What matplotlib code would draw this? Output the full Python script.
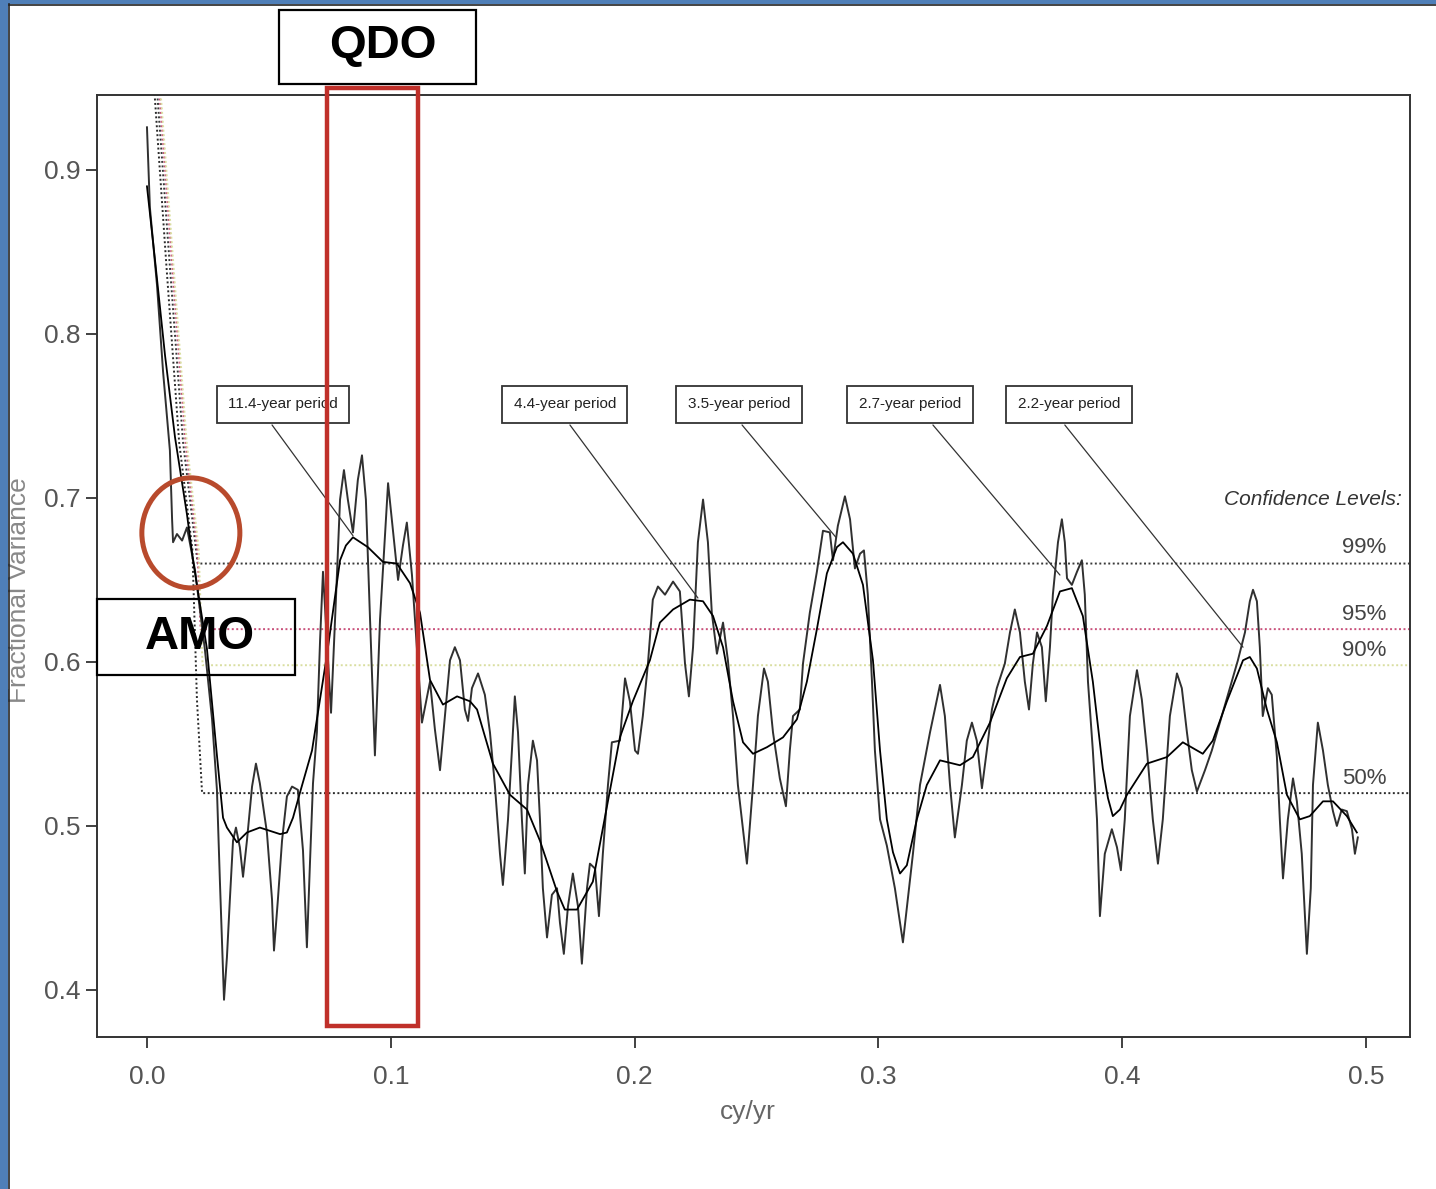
import matplotlib
matplotlib.use("Agg")
import matplotlib.pyplot as plt
from matplotlib.patches import Rectangle, Ellipse
import numpy as np

plt.rcParams['font.family'] = ['Liberation Sans', 'DejaVu Sans']

# raw periodogram (frequency in cy/yr, fractional variance)
noisy_pts = [
    (0.0000, 0.926), (0.0012, 0.877), (0.0041, 0.830), (0.0066, 0.777), (0.0094, 0.729),
    (0.0103, 0.687), (0.0107, 0.673), (0.0123, 0.678), (0.0144, 0.674), (0.0164, 0.682),
    (0.0197, 0.656), (0.0238, 0.607), (0.0267, 0.565), (0.0287, 0.522), (0.0299, 0.467),
    (0.0316, 0.394), (0.0328, 0.420), (0.0340, 0.455), (0.0353, 0.491), (0.0365, 0.499),
    (0.0381, 0.487), (0.0394, 0.469), (0.0410, 0.491), (0.0431, 0.524), (0.0447, 0.538),
    (0.0463, 0.526), (0.0492, 0.496), (0.0513, 0.455), (0.0521, 0.424), (0.0537, 0.455),
    (0.0554, 0.491), (0.0574, 0.518), (0.0595, 0.524), (0.0619, 0.522), (0.0640, 0.485),
    (0.0656, 0.426), (0.0669, 0.479), (0.0681, 0.526), (0.0697, 0.557), (0.0710, 0.613),
    (0.0722, 0.655), (0.0738, 0.613), (0.0755, 0.569), (0.0775, 0.638), (0.0792, 0.699),
    (0.0808, 0.717), (0.0824, 0.699), (0.0845, 0.679), (0.0865, 0.711), (0.0882, 0.726),
    (0.0898, 0.699), (0.0915, 0.626), (0.0935, 0.543), (0.0956, 0.626), (0.0989, 0.709),
    (0.1009, 0.680), (0.1030, 0.650), (0.1050, 0.671), (0.1066, 0.685), (0.1087, 0.653),
    (0.1107, 0.609), (0.1128, 0.563), (0.1161, 0.588), (0.1181, 0.559), (0.1202, 0.534),
    (0.1222, 0.567), (0.1243, 0.601), (0.1263, 0.609), (0.1284, 0.601), (0.1304, 0.571),
    (0.1317, 0.564), (0.1333, 0.584), (0.1358, 0.593), (0.1386, 0.580), (0.1407, 0.557),
    (0.1427, 0.525), (0.1448, 0.483), (0.1460, 0.464), (0.1481, 0.504), (0.1497, 0.546),
    (0.1509, 0.579), (0.1522, 0.557), (0.1538, 0.504), (0.1550, 0.471), (0.1563, 0.525),
    (0.1583, 0.552), (0.1600, 0.540), (0.1612, 0.504), (0.1624, 0.462), (0.1641, 0.432),
    (0.1661, 0.458), (0.1682, 0.462), (0.1694, 0.441), (0.1710, 0.422), (0.1727, 0.451),
    (0.1747, 0.471), (0.1768, 0.451), (0.1784, 0.416), (0.1805, 0.462), (0.1817, 0.477),
    (0.1838, 0.474), (0.1854, 0.445), (0.1870, 0.483), (0.1891, 0.525), (0.1907, 0.551),
    (0.1940, 0.552), (0.1961, 0.590), (0.1981, 0.576), (0.2002, 0.546), (0.2014, 0.544),
    (0.2034, 0.567), (0.2055, 0.599), (0.2075, 0.638), (0.2096, 0.646), (0.2125, 0.641),
    (0.2158, 0.649), (0.2186, 0.643), (0.2207, 0.599), (0.2223, 0.579), (0.2240, 0.609),
    (0.2260, 0.673), (0.2281, 0.699), (0.2301, 0.673), (0.2317, 0.630), (0.2338, 0.605),
    (0.2363, 0.624), (0.2383, 0.601), (0.2404, 0.567), (0.2424, 0.525), (0.2461, 0.477),
    (0.2486, 0.525), (0.2506, 0.567), (0.2531, 0.596), (0.2547, 0.588), (0.2568, 0.557),
    (0.2596, 0.529), (0.2621, 0.512), (0.2637, 0.546), (0.2650, 0.567), (0.2678, 0.571),
    (0.2691, 0.599), (0.2719, 0.630), (0.2748, 0.655), (0.2773, 0.680), (0.2801, 0.679),
    (0.2814, 0.662), (0.2834, 0.683), (0.2863, 0.701), (0.2884, 0.687), (0.2904, 0.657),
    (0.2925, 0.666), (0.2941, 0.668), (0.2957, 0.641), (0.2974, 0.588), (0.2986, 0.546),
    (0.3007, 0.504), (0.3035, 0.488), (0.3068, 0.462), (0.3101, 0.429), (0.3142, 0.483),
    (0.3171, 0.525), (0.3212, 0.557), (0.3253, 0.586), (0.3273, 0.567), (0.3294, 0.525),
    (0.3314, 0.493), (0.3343, 0.525), (0.3363, 0.552), (0.3384, 0.563), (0.3404, 0.552),
    (0.3425, 0.523), (0.3445, 0.546), (0.3466, 0.571), (0.3486, 0.584), (0.3519, 0.599),
    (0.3540, 0.618), (0.3560, 0.632), (0.3581, 0.618), (0.3601, 0.588), (0.3618, 0.571),
    (0.3634, 0.599), (0.3651, 0.618), (0.3671, 0.609), (0.3687, 0.576), (0.3704, 0.609),
    (0.3716, 0.641), (0.3737, 0.673), (0.3753, 0.687), (0.3765, 0.673), (0.3774, 0.651),
    (0.3794, 0.647), (0.3815, 0.655), (0.3835, 0.662), (0.3847, 0.641), (0.3860, 0.588),
    (0.3880, 0.546), (0.3897, 0.504), (0.3909, 0.445), (0.3929, 0.483), (0.3958, 0.498),
    (0.3979, 0.487), (0.3995, 0.473), (0.4011, 0.504), (0.4032, 0.567), (0.4061, 0.595),
    (0.4081, 0.577), (0.4102, 0.546), (0.4126, 0.504), (0.4147, 0.477), (0.4167, 0.504),
    (0.4196, 0.567), (0.4225, 0.593), (0.4245, 0.584), (0.4266, 0.557), (0.4286, 0.534),
    (0.4307, 0.521), (0.4340, 0.534), (0.4368, 0.546), (0.4401, 0.563), (0.4442, 0.584),
    (0.4475, 0.601), (0.4504, 0.618), (0.4524, 0.637), (0.4537, 0.644), (0.4553, 0.637),
    (0.4565, 0.609), (0.4577, 0.567), (0.4598, 0.584), (0.4614, 0.580), (0.4635, 0.542),
    (0.4647, 0.504), (0.4660, 0.468), (0.4680, 0.504), (0.4701, 0.529), (0.4717, 0.515),
    (0.4737, 0.483), (0.4750, 0.445), (0.4758, 0.422), (0.4774, 0.462), (0.4783, 0.525),
    (0.4803, 0.563), (0.4824, 0.546), (0.4844, 0.525), (0.4865, 0.509), (0.4881, 0.500),
    (0.4901, 0.510), (0.4922, 0.509), (0.4943, 0.498), (0.4955, 0.483), (0.4967, 0.493),
]

# smoothed spectrum
smooth_pts = [
    (0.0000, 0.890), (0.0033, 0.845), (0.0074, 0.787), (0.0115, 0.737), (0.0164, 0.690),
    (0.0189, 0.662), (0.0246, 0.608), (0.0287, 0.543), (0.0312, 0.505), (0.0328, 0.499),
    (0.0369, 0.490), (0.0410, 0.496), (0.0463, 0.499), (0.0546, 0.495), (0.0574, 0.496),
    (0.0599, 0.505), (0.0627, 0.520), (0.0677, 0.546), (0.0697, 0.565), (0.0738, 0.604),
    (0.0792, 0.662), (0.0816, 0.671), (0.0845, 0.676), (0.0906, 0.670), (0.0968, 0.661),
    (0.1025, 0.660), (0.1079, 0.648), (0.1120, 0.630), (0.1161, 0.589), (0.1214, 0.574),
    (0.1272, 0.579), (0.1325, 0.576), (0.1354, 0.571), (0.1419, 0.538), (0.1489, 0.519),
    (0.1559, 0.510), (0.1612, 0.491), (0.1682, 0.460), (0.1714, 0.449), (0.1764, 0.449),
    (0.1829, 0.466), (0.1887, 0.512), (0.1940, 0.554), (0.1993, 0.576), (0.2063, 0.601),
    (0.2104, 0.624), (0.2158, 0.632), (0.2227, 0.638), (0.2281, 0.637), (0.2322, 0.628),
    (0.2363, 0.609), (0.2404, 0.576), (0.2445, 0.551), (0.2486, 0.544), (0.2543, 0.548),
    (0.2609, 0.554), (0.2666, 0.565), (0.2707, 0.588), (0.2748, 0.620), (0.2789, 0.654),
    (0.2830, 0.670), (0.2855, 0.673), (0.2896, 0.666), (0.2937, 0.647), (0.2978, 0.601),
    (0.3007, 0.546), (0.3035, 0.504), (0.3060, 0.484), (0.3089, 0.471), (0.3117, 0.476),
    (0.3158, 0.504), (0.3199, 0.525), (0.3253, 0.540), (0.3335, 0.537), (0.3388, 0.542),
    (0.3458, 0.563), (0.3527, 0.590), (0.3581, 0.603), (0.3634, 0.605), (0.3692, 0.622),
    (0.3745, 0.643), (0.3794, 0.645), (0.3839, 0.628), (0.3880, 0.588), (0.3921, 0.535),
    (0.3942, 0.517), (0.3962, 0.506), (0.3991, 0.510), (0.4020, 0.519), (0.4102, 0.538),
    (0.4184, 0.542), (0.4249, 0.551), (0.4331, 0.544), (0.4372, 0.552), (0.4430, 0.576),
    (0.4496, 0.601), (0.4524, 0.603), (0.4553, 0.596), (0.4594, 0.571), (0.4635, 0.551),
    (0.4676, 0.519), (0.4729, 0.504), (0.4770, 0.506), (0.4824, 0.515), (0.4865, 0.515),
    (0.4922, 0.506), (0.4963, 0.496),
]

# confidence levels (raised at the lowest frequencies)
conf99 = [(0.0041, 0.949), (0.0094, 0.841), (0.0148, 0.734), (0.0208, 0.660), (0.518, 0.660)]
conf95 = [(0.0050, 0.949), (0.0104, 0.841), (0.0158, 0.734), (0.0207, 0.669), (0.0220, 0.620), (0.518, 0.620)]
conf90 = [(0.0055, 0.949), (0.0109, 0.841), (0.0163, 0.734), (0.0212, 0.669), (0.0228, 0.598), (0.518, 0.598)]
conf50 = [(0.0030, 0.949), (0.0080, 0.841), (0.0132, 0.734), (0.0186, 0.669), (0.0205, 0.577),
          (0.0226, 0.520), (0.518, 0.520)]
conf_labels = ['99%', '95%', '90%', '50%']
conf_label_y = [0.6695, 0.629, 0.6067, 0.5287]

# period annotations: label, peak (freq, var) the pointer goes to
period_labels = ['11.4-year period', '4.4-year period', '3.5-year period', '2.7-year period', '2.2-year period']
period_peaks = [(0.0845, 0.677), (0.2260, 0.639), (0.2826, 0.676), (0.3745, 0.653), (0.4496, 0.609)]
label_x = [0.0558, 0.1714, 0.2428, 0.3130, 0.3782]
pointer_start_x = [0.0513, 0.1735, 0.2441, 0.3224, 0.3765]

qdo_band = (0.0738, 0.1112)

W, H = 1436, 1189
fig = plt.figure(figsize=(W / 100, H / 100), dpi=100)
fig.patch.set_facecolor('white')
ax = fig.add_axes([97 / W, 1 - 1037 / H, (1410 - 97) / W, (1037 - 95) / H])

nf, nv = np.array(noisy_pts).T
sf, sv = np.array(smooth_pts).T

conf_colors = ['#3a3a3a', '#c8507a', '#d9dea0', '#2a2a2a']
for pts, col in zip([conf99, conf95, conf90, conf50], conf_colors):
    cf, cv = np.array(pts).T
    ax.plot(cf, cv, color=col, lw=1.4, ls=(0, (1, 1.3)), zorder=2)

ax.plot(nf, nv, color='#303030', lw=1.4, zorder=3)
ax.plot(sf, sv, color='black', lw=1.3, zorder=4)

ax.set_xlim(-0.0205, 0.5181)
ax.set_ylim(0.3713, 0.9457)
ax.set_xticks([0.0, 0.1, 0.2, 0.3, 0.4, 0.5])
ax.set_yticks([0.4, 0.5, 0.6, 0.7, 0.8, 0.9])
ax.tick_params(direction='out', length=8, width=1.3, color='#333333',
               labelcolor='#555555', labelsize=19)
ax.tick_params(axis='y', pad=4)
ax.tick_params(axis='x', pad=12)
for s in ax.spines.values():
    s.set_color('#333333')
    s.set_linewidth(1.4)

ax.set_xlabel('cy/yr', fontsize=19, color='#666666')
ax.xaxis.set_label_coords(0.4958, -0.067)
ax.set_ylabel('Fractional Variance', fontsize=19, color='#888888')
ax.yaxis.set_label_coords(-0.05, 0.4745)

# confidence level labels
ax.text(0.5148, 0.699, 'Confidence Levels:', ha='right', va='center', fontsize=15,
        style='italic', color='#333333')
for lab, y in zip(conf_labels, conf_label_y):
    ax.text(0.5085, y, lab, ha='right', va='center', fontsize=16, color='#444444')

# period labels with pointers
for lab, (px, py), lx, sx in zip(period_labels, period_peaks, label_x, pointer_start_x):
    ax.annotate('', xy=(px, py), xytext=(sx, 0.7445),
                arrowprops=dict(arrowstyle='-', color='#333333', lw=0.9, shrinkA=0, shrinkB=0),
                zorder=3)
    ax.text(lx, 0.757, lab, ha='center', va='center', fontsize=11, color='#222222', zorder=5,
            bbox=dict(boxstyle='square,pad=0.75', fc='white', ec='#333333', lw=1.3))

# QDO band
ax.add_patch(Rectangle((qdo_band[0], 0.378), qdo_band[1] - qdo_band[0], 0.95 - 0.378,
                       fill=False, ec='#c0302a', lw=3.2, zorder=6, clip_on=False))

# AMO circle
ax.add_patch(Ellipse((0.0180, 0.6787), 0.0402, 0.0671, fill=False, ec='#b84a2c',
                     lw=3.6, zorder=6))

# QDO / AMO boxes
fig.patches.append(Rectangle((279 / W, 1 - 84 / H), 197 / W, 74 / H, transform=fig.transFigure,
                             fill=False, ec='black', lw=1.6, figure=fig))
fig.text(383 / W, 1 - 46 / H, 'QDO', ha='center', va='center', fontsize=34, fontweight='bold')
fig.patches.append(Rectangle((97 / W, 1 - 675 / H), 198 / W, 76 / H, transform=fig.transFigure,
                             fill=False, ec='black', lw=1.6, figure=fig, zorder=7))
fig.text(200 / W, 1 - 637 / H, 'AMO', ha='center', va='center', fontsize=34, fontweight='bold',
         zorder=8)

# slide frame
fig.patches.append(Rectangle((0, 0), 8 / W, 1, transform=fig.transFigure,
                             fc='#4f7fb8', ec='none', figure=fig))
fig.patches.append(Rectangle((0, 1 - 4 / H), 1, 4 / H, transform=fig.transFigure,
                             fc='#4f7fb8', ec='none', figure=fig))
fig.add_artist(plt.Line2D([9 / W, 9 / W], [0, 1 - 4 / H], color='#222222', lw=1.2,
                          transform=fig.transFigure))
fig.add_artist(plt.Line2D([9 / W, 1], [1 - 5 / H, 1 - 5 / H], color='#222222', lw=1.2,
                          transform=fig.transFigure))

fig.savefig('out.png', dpi=100)
